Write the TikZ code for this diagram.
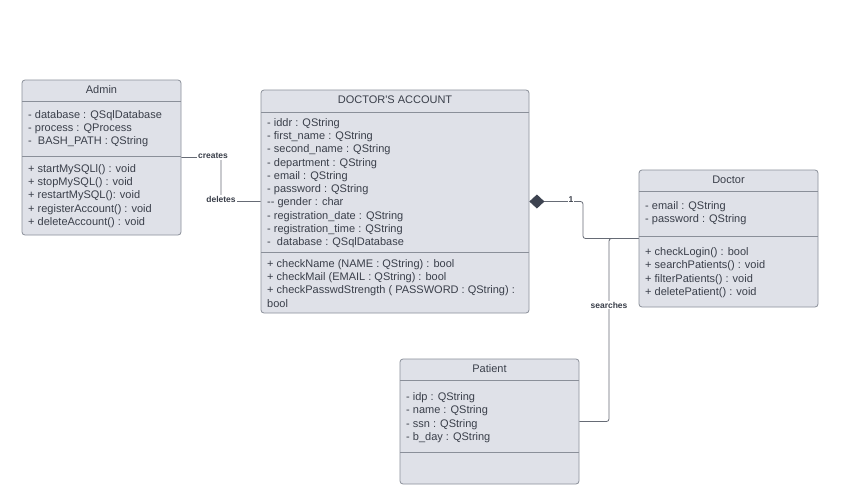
\documentclass[tikz,border=0pt]{standalone}
\usepackage{fontspec}
\setmainfont{Liberation Sans}
\usetikzlibrary{arrows.meta}
\definecolor{boxfill}{HTML}{DFE1E8}
\definecolor{boxline}{HTML}{8A8F99}
\definecolor{txt}{HTML}{3A3F4A}
\definecolor{conncol}{HTML}{666B75}
\definecolor{dia}{HTML}{3D4350}
\begin{document}
\begin{tikzpicture}[x=1pt,y=-1pt]
\tikzset{
 umlbox/.style={draw=boxline, fill=boxfill, rounded corners=3pt, line width=0.8pt, inner sep=0},
 ttl/.style={font=\fontsize{11}{13.3}\selectfont, text=txt, inner sep=0},
 body/.style={font=\fontsize{11}{13.3}\selectfont, text=txt, align=left, anchor=north west, inner sep=0},
 sepline/.style={draw=boxline, line width=0.8pt},
 connector/.style={draw=conncol, line width=0.8pt, rounded corners=2.5pt},
 lbl/.style={font=\bfseries\fontsize{8.5}{10}\selectfont, text=txt, fill=white, inner sep=1pt},
}
\useasboundingbox[fill=white] (0,0) rectangle (844,498);

% Admin
\node[umlbox, minimum width=159pt, minimum height=155pt] (admin) at (101.5,157.5) {};
\node[ttl] (adminT) at (101.5,90) {Admin};
\draw[sepline] (22,101) -- (181,101);
\draw[sepline] (22,156) -- (181,156);
\node[body] (adminA) at (28,110) {- database : QSqlDatabase\\- process : QProcess\\-~~BASH\_PATH : QString};
\node[body] (adminM) at (28,164) {+ startMySQLl() : void\\+ stopMySQL() : void\\+ restartMySQL(): void\\+ registerAccount() : void\\+ deleteAccount() : void};

% Doctor's account
\node[umlbox, minimum width=268pt, minimum height=223pt] (acct) at (395,201.5) {};
\node[ttl] (acctT) at (395,100) {DOCTOR\textquotesingle S ACCOUNT};
\draw[sepline] (261,112) -- (529,112);
\draw[sepline] (261,252) -- (529,252);
\node[body] (acctA) at (267,118) {- iddr : QString\\- first\_name : QString\\- second\_name : QString\\- department : QString\\- email : QString\\- password : QString\\-{}- gender : char\\- registration\_date : QString\\- registration\_time : QString\\-~~database : QSqlDatabase};
\node[body] (acctM) at (267,259) {+ checkName (NAME : QString) : bool\\+ checkMail (EMAIL : QString) : bool\\+ checkPasswdStrength ( PASSWORD : QString) :\\bool};

% Doctor
\node[umlbox, minimum width=179pt, minimum height=137pt] (doctor) at (728.5,238.5) {};
\node[ttl] (doctorT) at (728.5,179.5) {Doctor};
\draw[sepline] (639,191) -- (818,191);
\draw[sepline] (639,236) -- (818,236);
\node[body] (doctorA) at (645,201.5) {- email : QString\\- password : QString};
\node[body] (doctorM) at (645,247.5) {+ checkLogin() : bool\\+ searchPatients() : void\\+ filterPatients() : void\\+ deletePatient() : void};

% Patient
\node[umlbox, minimum width=179pt, minimum height=125pt] (patient) at (489.5,421.5) {};
\node[ttl] (patientT) at (489.5,368.5) {Patient};
\draw[sepline] (400,380) -- (579,380);
\draw[sepline] (400,452) -- (579,452);
\node[body] (patientA) at (406,392.5) {- idp : QString\\- name : QString\\- ssn : QString\\- b\_day : QString};

% Admin -> account
\coordinate (c1) at (221,157.5);
\draw[connector] (admin.east) -- (c1) -- (c1 |- acct.west) -- (acct.west);
\node[lbl] (creates) at (213,156) {creates};
\node[lbl] (deletes) at (221,199) {deletes};

% composition
\coordinate (c2) at (583,201.5);
\draw[connector, {Diamond[length=15pt,width=14pt,fill=dia,color=dia]}-] (acct.east) -- (c2) -- (c2 |- doctor.west) -- (doctor.west);
\node[lbl] (one) at (571,200) {1};

% searches
\coordinate (c3) at (609,238.5);
\draw[connector] (doctor.west) -- (c3) -- (c3 |- patient.east) -- (patient.east);
\node[lbl] (searches) at (609,305) {searches};
\end{tikzpicture}
\end{document}
